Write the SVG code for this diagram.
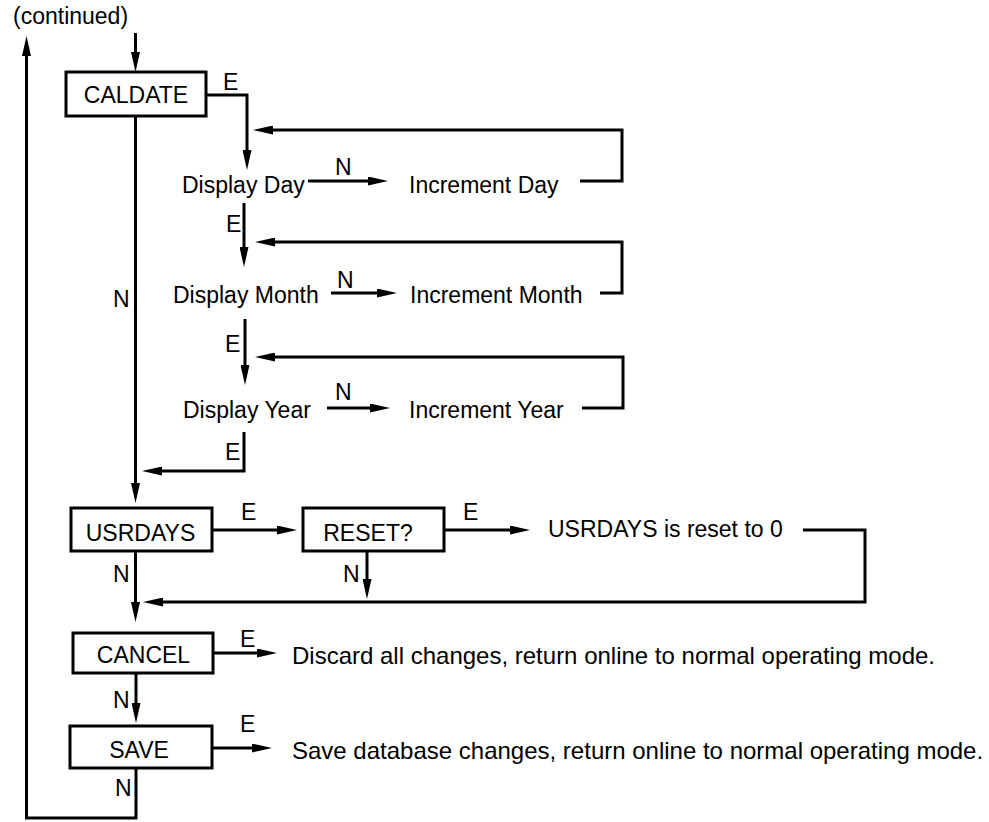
<svg xmlns="http://www.w3.org/2000/svg" width="989" height="822" viewBox="0 0 989 822">
<style>
text{font-family:"Liberation Sans",Arial,sans-serif;font-size:23px;fill:#000}
.big{font-size:24px}
.mid{text-anchor:middle}
.box{fill:#fff;stroke:#000;stroke-width:3}
.c path{fill:none;stroke:#000;stroke-width:3}
.a{marker-end:url(#ah)}
</style>
<defs>
<marker id="ah" markerUnits="userSpaceOnUse" markerWidth="20" markerHeight="9" refX="10" refY="4.5" orient="auto" viewBox="0 0 20 9">
<path d="M0,0 L20,4.5 L0,9 z" fill="#000"/>
</marker>
</defs>
<rect width="989" height="822" fill="#fff"/>
<g id="connectors" class="c">
<path class="a" d="M135.5,33 V62"/>
<path class="a" d="M136,768 V818 H26.5 V46"/>
<path class="a" d="M206,95 H247 V160"/>
<path class="a" d="M580,181 H622 V130 H263"/>
<path class="a" d="M308,181 H378"/>
<path class="a" d="M244,203 V257"/>
<path class="a" d="M600,293 H622 V242 H265"/>
<path class="a" d="M331,293 H387"/>
<path class="a" d="M245,319 V375"/>
<path class="a" d="M582,408 H623 V357 H265"/>
<path class="a" d="M327,408 H380"/>
<path class="a" d="M244,432 V471 H152"/>
<path class="a" d="M135.5,116 V493"/>
<path class="a" d="M212,530 H287"/>
<path class="a" d="M444,530 H520"/>
<path class="a" d="M803,530 H865 V602 H153"/>
<path class="a" d="M367,551 V589"/>
<path class="a" d="M135.5,551 V612"/>
<path class="a" d="M136,673 V713"/>
<path class="a" d="M213,653 H267"/>
<path class="a" d="M212,748 H262"/>
</g>
<g id="labels">
<text x="13" y="24">(continued)</text>
<text x="223" y="90">E</text>
<text x="335" y="175">N</text>
<text x="226" y="232">E</text>
<text x="337" y="288">N</text>
<text x="225" y="352">E</text>
<text x="335" y="400">N</text>
<text x="225" y="460">E</text>
<text x="113" y="307">N</text>
<text x="241" y="520">E</text>
<text x="463" y="520">E</text>
<text x="343" y="582">N</text>
<text x="113" y="582">N</text>
<text x="240" y="647">E</text>
<text x="113" y="708">N</text>
<text x="240" y="732">E</text>
<text x="115" y="796">N</text>
</g>
<g id="caldate"><rect class="box" x="66" y="72" width="140" height="44"/><text class="mid" x="136" y="103">CALDATE</text></g>
<g id="display-day"><text x="182" y="193">Display Day</text></g>
<g id="increment-day"><text x="409" y="193">Increment Day</text></g>
<g id="display-month"><text x="173" y="303">Display Month</text></g>
<g id="increment-month"><text x="410" y="303">Increment Month</text></g>
<g id="display-year"><text x="183" y="418">Display Year</text></g>
<g id="increment-year"><text x="409" y="418">Increment Year</text></g>
<g id="usrdays"><rect class="box" x="71" y="508" width="141" height="43"/><text class="mid" x="140.5" y="541">USRDAYS</text></g>
<g id="reset"><rect class="box" x="303" y="508" width="141" height="43"/><text class="mid" x="368" y="541">RESET?</text></g>
<g id="usrdays-reset"><text x="548" y="537">USRDAYS is reset to 0</text></g>
<g id="cancel"><rect class="box" x="73" y="633" width="140" height="40"/><text class="mid" x="143.5" y="663">CANCEL</text></g>
<g id="discard"><text class="big" x="292" y="664">Discard all changes, return online to normal operating mode.</text></g>
<g id="save"><rect class="box" x="70" y="726" width="142" height="42"/><text class="mid" x="139" y="758">SAVE</text></g>
<g id="save-db"><text class="big" x="292" y="759">Save database changes, return online to normal operating mode.</text></g>
</svg>
